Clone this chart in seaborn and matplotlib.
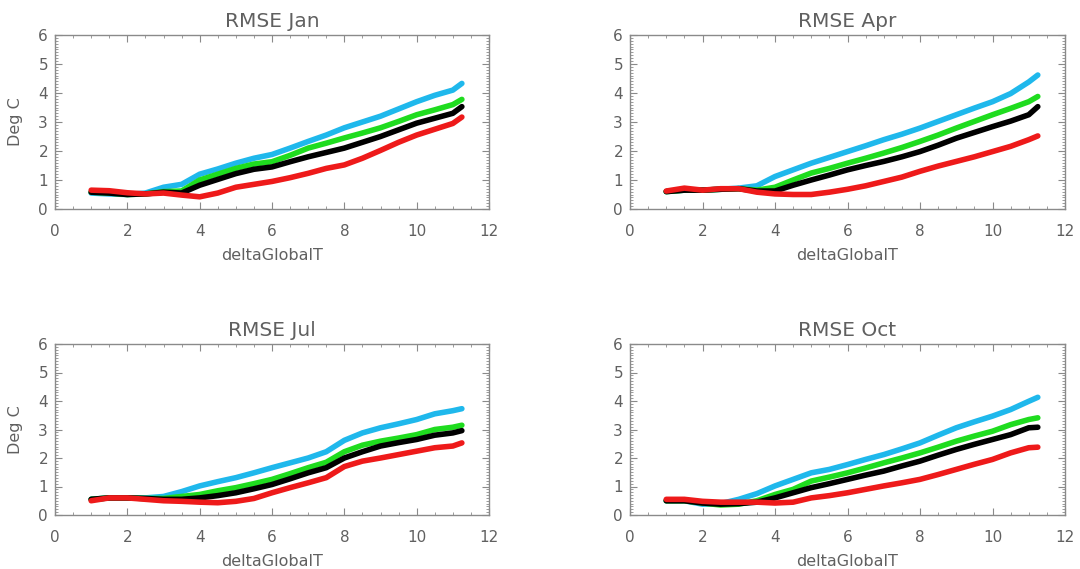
import numpy as np
import pandas as pd
import matplotlib
matplotlib.use("Agg")
import matplotlib.pyplot as plt
from matplotlib.ticker import MultipleLocator
import seaborn as sns

# ---------------- data ----------------
delta_global_t = [1.0, 1.5, 2.0, 2.5, 3.0, 3.5, 4.0, 4.5, 5.0, 5.5, 6.0, 6.5,
                  7.0, 7.5, 8.0, 8.5, 9.0, 9.5, 10.0, 10.5, 11.0, 11.25]

months = ["Jan", "Apr", "Jul", "Oct"]
series_names = ["cyan", "green", "black", "red"]

jan_cyan = [0.55, 0.52, 0.50, 0.55, 0.75, 0.85, 1.20, 1.38, 1.58, 1.75, 1.88, 2.10, 2.33, 2.55, 2.80, 3.00, 3.20, 3.45, 3.70, 3.92, 4.10, 4.33]
jan_green = [0.58, 0.55, 0.50, 0.52, 0.60, 0.62, 1.00, 1.20, 1.40, 1.55, 1.63, 1.85, 2.10, 2.27, 2.45, 2.62, 2.80, 3.02, 3.25, 3.42, 3.60, 3.78]
jan_black = [0.58, 0.55, 0.50, 0.52, 0.58, 0.55, 0.82, 1.02, 1.22, 1.37, 1.45, 1.63, 1.80, 1.95, 2.10, 2.30, 2.50, 2.73, 2.96, 3.13, 3.30, 3.53]
jan_red = [0.65, 0.63, 0.56, 0.52, 0.55, 0.48, 0.42, 0.55, 0.75, 0.85, 0.95, 1.08, 1.23, 1.40, 1.52, 1.75, 2.02, 2.30, 2.55, 2.75, 2.95, 3.17]

apr_cyan = [0.60, 0.65, 0.65, 0.68, 0.72, 0.80, 1.12, 1.35, 1.58, 1.78, 1.98, 2.18, 2.39, 2.58, 2.79, 3.02, 3.25, 3.48, 3.70, 3.98, 4.38, 4.62]
apr_green = [0.60, 0.65, 0.65, 0.68, 0.70, 0.65, 0.75, 1.00, 1.24, 1.40, 1.58, 1.75, 1.93, 2.12, 2.33, 2.55, 2.79, 3.02, 3.25, 3.47, 3.70, 3.88]
apr_black = [0.60, 0.65, 0.65, 0.68, 0.70, 0.62, 0.62, 0.82, 1.00, 1.17, 1.35, 1.50, 1.64, 1.80, 1.98, 2.20, 2.44, 2.64, 2.84, 3.03, 3.25, 3.53]
apr_red = [0.62, 0.72, 0.65, 0.70, 0.70, 0.58, 0.52, 0.50, 0.50, 0.58, 0.68, 0.80, 0.95, 1.10, 1.30, 1.48, 1.64, 1.80, 1.98, 2.16, 2.39, 2.52]

jul_cyan = [0.55, 0.60, 0.60, 0.60, 0.65, 0.82, 1.02, 1.17, 1.31, 1.48, 1.66, 1.83, 2.00, 2.22, 2.62, 2.88, 3.06, 3.20, 3.35, 3.55, 3.66, 3.73]
jul_green = [0.55, 0.60, 0.60, 0.58, 0.58, 0.65, 0.72, 0.85, 0.96, 1.10, 1.25, 1.45, 1.66, 1.85, 2.22, 2.45, 2.59, 2.70, 2.82, 3.00, 3.08, 3.15]
jul_black = [0.55, 0.60, 0.60, 0.58, 0.55, 0.55, 0.60, 0.68, 0.78, 0.92, 1.07, 1.27, 1.48, 1.66, 2.00, 2.22, 2.42, 2.54, 2.65, 2.80, 2.88, 2.96]
jul_red = [0.50, 0.60, 0.60, 0.55, 0.50, 0.48, 0.45, 0.43, 0.48, 0.58, 0.78, 0.96, 1.13, 1.31, 1.70, 1.89, 2.00, 2.12, 2.24, 2.36, 2.42, 2.53]

oct_cyan = [0.50, 0.50, 0.38, 0.40, 0.55, 0.75, 1.02, 1.25, 1.48, 1.60, 1.77, 1.95, 2.12, 2.32, 2.53, 2.80, 3.06, 3.27, 3.47, 3.70, 3.99, 4.13]
oct_green = [0.50, 0.50, 0.42, 0.35, 0.38, 0.50, 0.72, 0.90, 1.19, 1.33, 1.48, 1.65, 1.83, 2.00, 2.18, 2.38, 2.59, 2.77, 2.94, 3.17, 3.35, 3.41]
oct_black = [0.50, 0.50, 0.42, 0.38, 0.40, 0.45, 0.60, 0.78, 0.96, 1.10, 1.25, 1.40, 1.54, 1.72, 1.89, 2.10, 2.30, 2.48, 2.65, 2.82, 3.06, 3.08]
oct_red = [0.55, 0.55, 0.48, 0.45, 0.45, 0.45, 0.42, 0.45, 0.60, 0.68, 0.78, 0.90, 1.02, 1.13, 1.25, 1.42, 1.60, 1.78, 1.95, 2.18, 2.36, 2.38]

x_ticks = [0, 2, 4, 6, 8, 10, 12]
y_ticks = [0, 1, 2, 3, 4, 5, 6]

# ---------------- build table ----------------
month_series = {
    "Jan": [jan_cyan, jan_green, jan_black, jan_red],
    "Apr": [apr_cyan, apr_green, apr_black, apr_red],
    "Jul": [jul_cyan, jul_green, jul_black, jul_red],
    "Oct": [oct_cyan, oct_green, oct_black, oct_red],
}
rows = []
for m in months:
    for name, vals in zip(series_names, month_series[m]):
        for xv, yv in zip(delta_global_t, vals):
            rows.append({"month": m, "series": name, "deltaGlobalT": xv, "rmse": yv})
df = pd.DataFrame(rows)

palette = {"cyan": "#1fb8ec", "green": "#1fdc1f", "black": "#000000", "red": "#ee1a1a"}

# ---------------- plot ----------------
sns.set_style("white")
plt.rcParams["font.family"] = ["DejaVu Sans"]

fig = plt.figure(figsize=(10.80, 5.69), dpi=100)
text_col = "#606060"
frame_col = "#8a8a8a"

positions = {
    "Jan": [55 / 1080, 1 - 209 / 569, 434 / 1080, 174 / 569],
    "Apr": [630 / 1080, 1 - 209 / 569, 435 / 1080, 174 / 569],
    "Jul": [55 / 1080, 1 - 515 / 569, 434 / 1080, 171 / 569],
    "Oct": [630 / 1080, 1 - 515 / 569, 435 / 1080, 171 / 569],
}

for m in months:
    ax = fig.add_axes(positions[m])
    sub = df[df["month"] == m]
    sns.lineplot(data=sub, x="deltaGlobalT", y="rmse", hue="series",
                 hue_order=series_names, palette=palette, linewidth=4.0,
                 legend=False, ax=ax, solid_capstyle="round")
    ax.set_xlim(0, 12)
    ax.set_ylim(0, 6)
    ax.set_xticks(x_ticks)
    ax.set_yticks(y_ticks)
    ax.xaxis.set_minor_locator(MultipleLocator(0.5))
    ax.yaxis.set_minor_locator(MultipleLocator(0.1))
    ax.tick_params(which="both", direction="in", bottom=True, left=True,
                   top=True, right=True,
                   colors=frame_col, labelcolor=text_col, labelsize=11)
    ax.tick_params(which="major", length=5, width=0.8)
    ax.tick_params(which="minor", length=2.5, width=0.6)
    ax.tick_params(axis="x", which="major", pad=10.5)
    ax.tick_params(axis="y", which="major", pad=5)
    for sp in ax.spines.values():
        sp.set_color(frame_col)
        sp.set_linewidth(1.0)
    ax.set_title(f"RMSE {m}", color=text_col, fontsize=14.5, pad=6)
    ax.set_xlabel("deltaGlobalT", color=text_col, fontsize=11.5, labelpad=7)
    if m in ("Jan", "Jul"):
        ax.set_ylabel("Deg C", color=text_col, fontsize=11.5, labelpad=11)
    else:
        ax.set_ylabel("")

fig.savefig("out.png", dpi=100, facecolor="white")
